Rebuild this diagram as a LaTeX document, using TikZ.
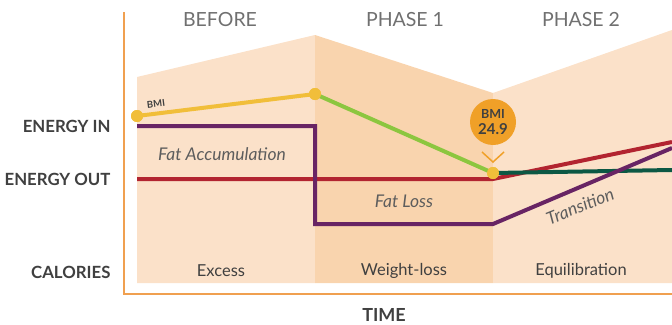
\documentclass[tikz,border=0pt]{standalone}
\usepackage{fontspec}
\setmainfont{Lato}
\usetikzlibrary{positioning}
\definecolor{peach}{RGB}{251,225,201}
\definecolor{peachdark}{RGB}{249,212,174}
\definecolor{axisorange}{RGB}{240,160,80}
\definecolor{bmiyellow}{RGB}{241,190,58}
\definecolor{lossgreen}{RGB}{140,198,63}
\definecolor{inpurple}{RGB}{104,36,100}
\definecolor{outred}{RGB}{178,36,48}
\definecolor{eqgreen}{RGB}{12,88,68}
\definecolor{badgeorange}{RGB}{240,160,40}
\definecolor{labelgray}{RGB}{64,64,64}
\definecolor{phasegray}{RGB}{112,112,112}

\begin{document}
\begin{tikzpicture}[x=1pt, y=-1pt,
    phase/.style={font=\fontsize{19.5}{22}\selectfont, text=phasegray},
    axislabel/.style={font=\fontsize{16.8}{19}\selectfont\bfseries, text=labelgray, anchor=east},
    band/.style={font=\fontsize{16.5}{19}\selectfont, text=labelgray},
    note/.style={font=\fontsize{17.5}{20}\selectfont\itshape, text=labelgray!85},
    curve/.style={line width=4pt},
    dot/.style={circle, fill=bmiyellow, inner sep=0pt, minimum size=12pt}]

\useasboundingbox (0,0) rectangle (672,324);

% shaded phases
\fill[peach] (137,283) -- (137,77) -- (315,35) -- (315,283) -- cycle;
\fill[peachdark] (315,283) -- (315,35) -- (493,93) -- (493,283) -- cycle;
\fill[peach] (493,283) -- (493,93) -- (672,30) -- (672,283) -- cycle;

% axes
\coordinate (top) at (124,12);
\coordinate (origin) at (124,294);
\coordinate (right) at (672,294);
\draw[axisorange, line width=1.6pt] (top) -- (origin) -- (right);

% phase titles
\node[phase] (before) at (220,20) {BEFORE};
\node[phase] (phase1) at (405,20) {PHASE 1};
\node[phase] (phase2) at (581,20) {PHASE 2};

% key points
\coordinate (in0) at (137,126);
\coordinate (in1) at (315,126);
\coordinate (in2) at (315,224);
\coordinate (in3) at (493,224);
\coordinate (in4) at (672,148);
\coordinate (out0) at (137,179);
\coordinate (out1) at (493,179);
\coordinate (out2) at (672,142);
\coordinate (eq1) at (672,170);

% energy out, equilibrium, energy in
\draw[curve, outred] (out0) -- (out1) -- (out2);
\node[dot] (bmi3) at (493,173) {};
\draw[curve, eqgreen] (bmi3.center) -- (eq1);
\draw[curve, inpurple] (in0) -- (in1) -- (in2) -- (in3) -- (in4);

% bmi line
\node[dot] (bmi1) at (137,116) {};
\node[dot] (bmi2) at (315,94) {};
\draw[curve, bmiyellow] (bmi1.center) -- (bmi2.center);
\draw[curve, lossgreen] (bmi2.center) -- (bmi3.center);
\node[dot] at (bmi1) {};
\node[dot] at (bmi2) {};
\node[dot] at (bmi3) {};
\node[font=\fontsize{9.5}{11}\selectfont\bfseries, text=labelgray, rotate=7] (bmitag) at (156,104) {BMI};

% badge
\node[circle, fill=badgeorange, minimum size=46pt, inner sep=0pt, align=center,
      font=\fontsize{15}{15.5}\selectfont\bfseries, text=labelgray] (badge) at (493,122)
      {{\fontsize{12.5}{13}\selectfont BMI}\\24.9};
\coordinate (chevl) at (482,152);
\coordinate (chevr) at (504,152);
\coordinate (chevm) at (493,162);
\draw[badgeorange, line width=1.5pt] (chevl) -- (chevm) -- (chevr);

% notes
\node[note] (accum) at (222,154) {Fat Accumulation};
\node[note] (loss) at (404,201) {Fat Loss};
\node[note, rotate=22] (trans) at (580,206) {Transition};

% left labels
\node[axislabel] (ein) at (114,126) {ENERGY IN};
\node[axislabel] (eout) at (114,179) {ENERGY OUT};
\node[axislabel] (cal) at (114,272) {CALORIES};

% bands
\node[band] (excess) at (221,271) {Excess};
\node[band] (wloss) at (404,271) {Weight-loss};
\node[band] (equil) at (581,271) {Equilibration};

\node[font=\fontsize{18}{21}\selectfont\bfseries, text=labelgray, inner sep=1pt] (time) at (384,315) {TIME};

\end{tikzpicture}
\end{document}
